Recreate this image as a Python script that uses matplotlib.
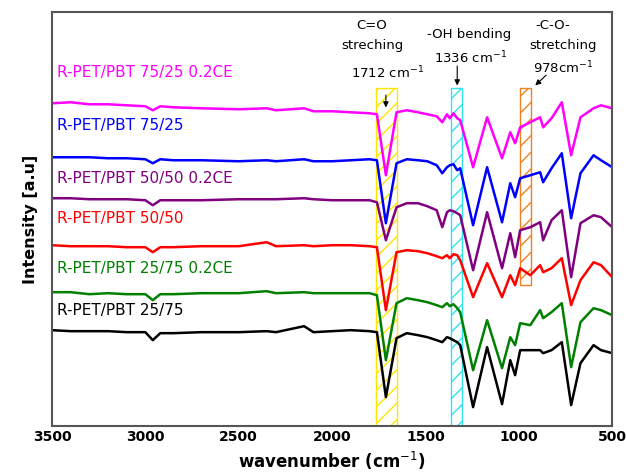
import matplotlib
matplotlib.use("Agg")
import matplotlib.pyplot as plt
from matplotlib.patches import Rectangle

# wavenumber points (cm-1)
wavenumber = [3500, 3400, 3300, 3200, 3100, 3000, 2960, 2920, 2850, 2700,
              2500, 2350, 2300, 2150, 2100, 2000, 1900, 1800, 1760, 1712,
              1655, 1600, 1540, 1490, 1440, 1410, 1385, 1370, 1350, 1330,
              1314, 1245, 1170, 1090, 1046, 1020, 993, 939, 886, 870,
              825, 770, 720, 670, 600, 560, 500]

# intensity (a.u., stacked) for each sample
pet75_ce = [327, 328, 326, 326, 325, 324, 320, 324, 323, 322,
            321, 322, 320, 322, 319, 319, 318, 317, 316, 255,
            318, 320, 318, 316, 314, 308, 316, 312, 317, 312,
            310, 263, 313, 272, 298, 287, 303, 308, 313, 303,
            312, 328, 275, 313, 322, 325, 322]
pet75 = [273, 273, 273, 272, 272, 271, 267, 271, 270, 270,
         269, 270, 269, 271, 269, 269, 270, 271, 270, 207,
         267, 271, 270, 269, 265, 257, 263, 265, 266, 260,
         262, 205, 263, 208, 247, 233, 252, 255, 258, 248,
         262, 277, 212, 257, 275, 270, 263]
pet50_ce = [232, 232, 231, 231, 231, 230, 225, 230, 230, 230,
            231, 231, 231, 232, 231, 230, 230, 230, 228, 190,
            223, 227, 227, 224, 220, 203, 218, 220, 219, 217,
            215, 160, 218, 162, 197, 173, 200, 203, 208, 190,
            210, 220, 153, 207, 215, 213, 203]
pet50 = [185, 184, 184, 184, 183, 183, 178, 183, 183, 184,
         184, 188, 184, 185, 184, 185, 185, 184, 183, 120,
         178, 180, 179, 177, 174, 172, 175, 172, 176, 175,
         170, 133, 167, 133, 155, 145, 162, 155, 165, 158,
         162, 172, 125, 150, 168, 165, 153]
pet25_ce = [138, 138, 136, 137, 136, 136, 130, 136, 136, 137,
            137, 139, 137, 138, 137, 137, 137, 137, 135, 70,
            127, 132, 130, 128, 125, 123, 127, 124, 126, 122,
            118, 60, 110, 62, 93, 85, 107, 105, 120, 112,
            118, 127, 63, 108, 122, 120, 115]
pet25 = [100, 99, 99, 99, 98, 98, 90, 97, 97, 98,
         98, 99, 98, 104, 98, 99, 100, 99, 98, 33,
         92, 97, 95, 93, 90, 88, 93, 92, 90, 88,
         85, 23, 83, 26, 70, 55, 80, 80, 80, 77,
         80, 88, 25, 67, 85, 80, 77]

labels = ['R-PET/PBT 75/25 0.2CE', 'R-PET/PBT 75/25', 'R-PET/PBT 50/50 0.2CE',
          'R-PET/PBT 50/50', 'R-PET/PBT 25/75 0.2CE', 'R-PET/PBT 25/75']
label_y = [358, 305, 252, 212, 162, 120]
colors = ['#FF00FF', '#0000FF', '#800080', '#FF0000', '#008000', '#000000']
series = [pet75_ce, pet75, pet50_ce, pet50, pet25_ce, pet25]

fig = plt.figure(figsize=(6.26, 4.74), dpi=100)
ax = fig.add_axes([0.083, 0.101, 0.895, 0.873])

# hatched bands marking the bands of interest
bands = [(1650, 1765, 4, 342, '#FFE600'),
         (1306, 1363, 4, 342, '#33E0F0'),
         (936, 993, 145, 342, '#F08020')]
for lo, hi, y0, y1, c in bands:
    ax.add_patch(Rectangle((lo, y0), hi - lo, y1 - y0, facecolor='none',
                           edgecolor=c, hatch='//', linewidth=1.0, zorder=1))

for ys, c, lab, ly in zip(series, colors, labels, label_y):
    ax.plot(wavenumber, ys, color=c, linewidth=1.8, zorder=2)
    ax.text(3472, ly, lab, color=c, fontsize=11, va='center', ha='left')

# annotations
ax.text(1786, 405, 'C=O', ha='center', va='center', fontsize=9.5)
ax.text(1786, 385, 'streching', ha='center', va='center', fontsize=9.5)
ax.text(1705, 357, '1712 cm$^{-1}$', ha='center', va='center', fontsize=9.5)
ax.text(1266, 396, '-OH bending', ha='center', va='center', fontsize=9.5)
ax.text(1261, 372, '1336 cm$^{-1}$', ha='center', va='center', fontsize=9.5)
ax.text(821, 405, '-C-O-', ha='center', va='center', fontsize=9.5)
ax.text(763, 385, 'stretching', ha='center', va='center', fontsize=9.5)
ax.text(763, 362, '978cm$^{-1}$', ha='center', va='center', fontsize=9.5)

arrow = dict(arrowstyle='-|>', color='black', lw=0.8, mutation_scale=8)
ax.annotate('', xy=(1712, 320), xytext=(1712, 338), arrowprops=arrow)
ax.annotate('', xy=(1330, 342), xytext=(1330, 367), arrowprops=arrow)
ax.annotate('', xy=(923, 343), xytext=(843, 357), arrowprops=arrow)

ax.set_xlim(3500, 500)
ax.set_ylim(4, 418)
ax.set_yticks([])
ax.set_xticks([3500, 3000, 2500, 2000, 1500, 1000, 500])
ax.tick_params(axis='x', length=0, pad=3, labelsize=10)
for t in ax.get_xticklabels():
    t.set_fontweight('bold')
for s in ax.spines.values():
    s.set_color('#555555')
    s.set_linewidth(1.5)

ax.set_xlabel('wavenumber (cm$^{-1}$)', fontsize=12, fontweight='bold', labelpad=4)
ax.set_ylabel('Intensity [a.u]', fontsize=11.5, fontweight='bold', labelpad=10)

fig.savefig('out.png', dpi=100)
